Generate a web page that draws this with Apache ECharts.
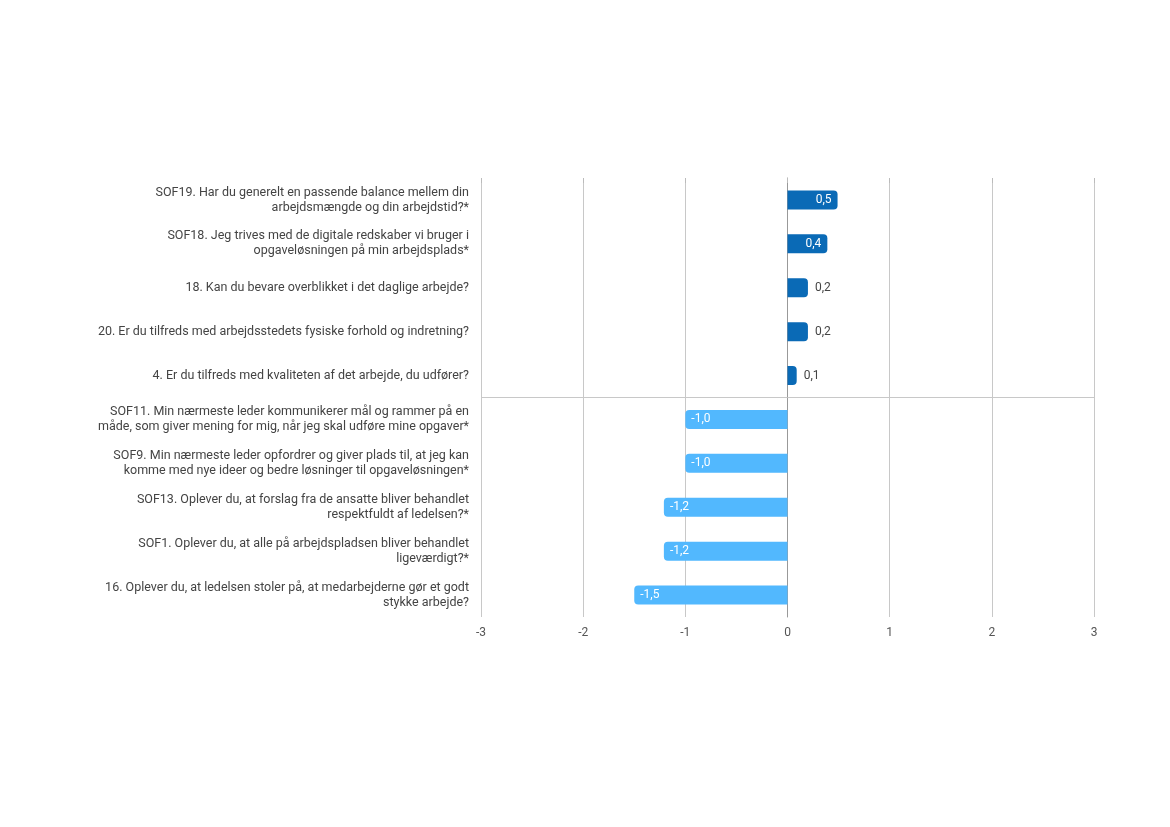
<!DOCTYPE html>
<html>
<head>
<meta charset="utf-8">
<script src="https://cdn.jsdelivr.net/npm/echarts@6/dist/echarts.min.js"></script>
<style>html,body{margin:0;padding:0;background:#fff}#c{width:1170px;height:827px}</style>
</head>
<body>
<div id="c"></div>
<script>
const categories = [
  "SOF19. Har du generelt en passende balance mellem din\narbejdsmængde og din arbejdstid?*",
  "SOF18. Jeg trives med de digitale redskaber vi bruger i\nopgaveløsningen på min arbejdsplads*",
  "18. Kan du bevare overblikket i det daglige arbejde?",
  "20. Er du tilfreds med arbejdsstedets fysiske forhold og indretning?",
  "4. Er du tilfreds med kvaliteten af det arbejde, du udfører?",
  "SOF11. Min nærmeste leder kommunikerer mål og rammer på en\nmåde, som giver mening for mig, når jeg skal udføre mine opgaver*",
  "SOF9. Min nærmeste leder opfordrer og giver plads til, at jeg kan\nkomme med nye ideer og bedre løsninger til opgaveløsningen*",
  "SOF13. Oplever du, at forslag fra de ansatte bliver behandlet\nrespektfuldt af ledelsen?*",
  "SOF1. Oplever du, at alle på arbejdspladsen bliver behandlet\nligeværdigt?*",
  "16. Oplever du, at ledelsen stoler på, at medarbejderne gør et godt\nstykke arbejde?"
];
const values = [0.49, 0.39, 0.2, 0.2, 0.09, -1.0, -1.0, -1.21, -1.21, -1.5];
const xTicks = [-3, -2, -1, 0, 1, 2, 3];
const positiveCount = 5; // divider drawn after the positive items

const POS = '#0a6ab6', NEG = '#52b8fe';
const fmt = v => v.toFixed(1).replace('.', ',');

const data = values.map(v => {
  const small = Math.abs(v) < 0.3;
  return {
    value: v,
    itemStyle: { color: v >= 0 ? POS : NEG, borderRadius: v >= 0 ? [0,4,4,0] : [4,0,0,4] },
    label: small
      ? { position: v >= 0 ? 'right' : 'left', color: '#444', distance: 7 }
      : { position: v >= 0 ? 'insideRight' : 'insideLeft', color: '#fff', distance: 6 }
  };
});

const chart = echarts.init(document.getElementById('c'));
chart.setOption({
  animation: false,
  grid: { left: 481, right: 76, top: 178, bottom: 210, containLabel: false },
  xAxis: {
    type: 'value', min: -3, max: 3, interval: 1,
    axisLine: { show: false },
    axisTick: { show: true, length: 5, lineStyle: { color: '#bbb' } },
    axisLabel: { color: '#555', fontFamily: 'Roboto', fontSize: 12, margin: 10, formatter: v => xTicks.includes(v) ? String(v) : '' },
    splitLine: { show: true, lineStyle: { color: '#c8c8c8' } }
  },
  yAxis: [{
    type: 'category', data: categories, inverse: true,
    axisLine: { show: true, lineStyle: { color: '#999' } },
    axisTick: { show: false },
    axisLabel: { color: '#444', fontFamily: 'Roboto', fontSize: 12.5, lineHeight: 15, margin: 12, align: 'right' },
    splitLine: { show: false }
  }, {
    type: 'value', min: 0, max: categories.length, inverse: true, show: false,
    splitLine: { show: false }
  }],
  series: [{
    type: 'bar', data: data, barWidth: 19,
    label: { show: true, fontFamily: 'Roboto', fontSize: 12, formatter: p => fmt(p.value) }
  }, {
    type: 'line', yAxisIndex: 1, data: [], silent: true,
    markLine: {
      silent: true, symbol: 'none', label: { show: false },
      lineStyle: { color: '#c8c8c8', type: 'solid', width: 1 },
      data: [[{ coord: [-3, positiveCount] }, { coord: [3, positiveCount] }]]
    }
  }]
});
</script>
</body>
</html>
